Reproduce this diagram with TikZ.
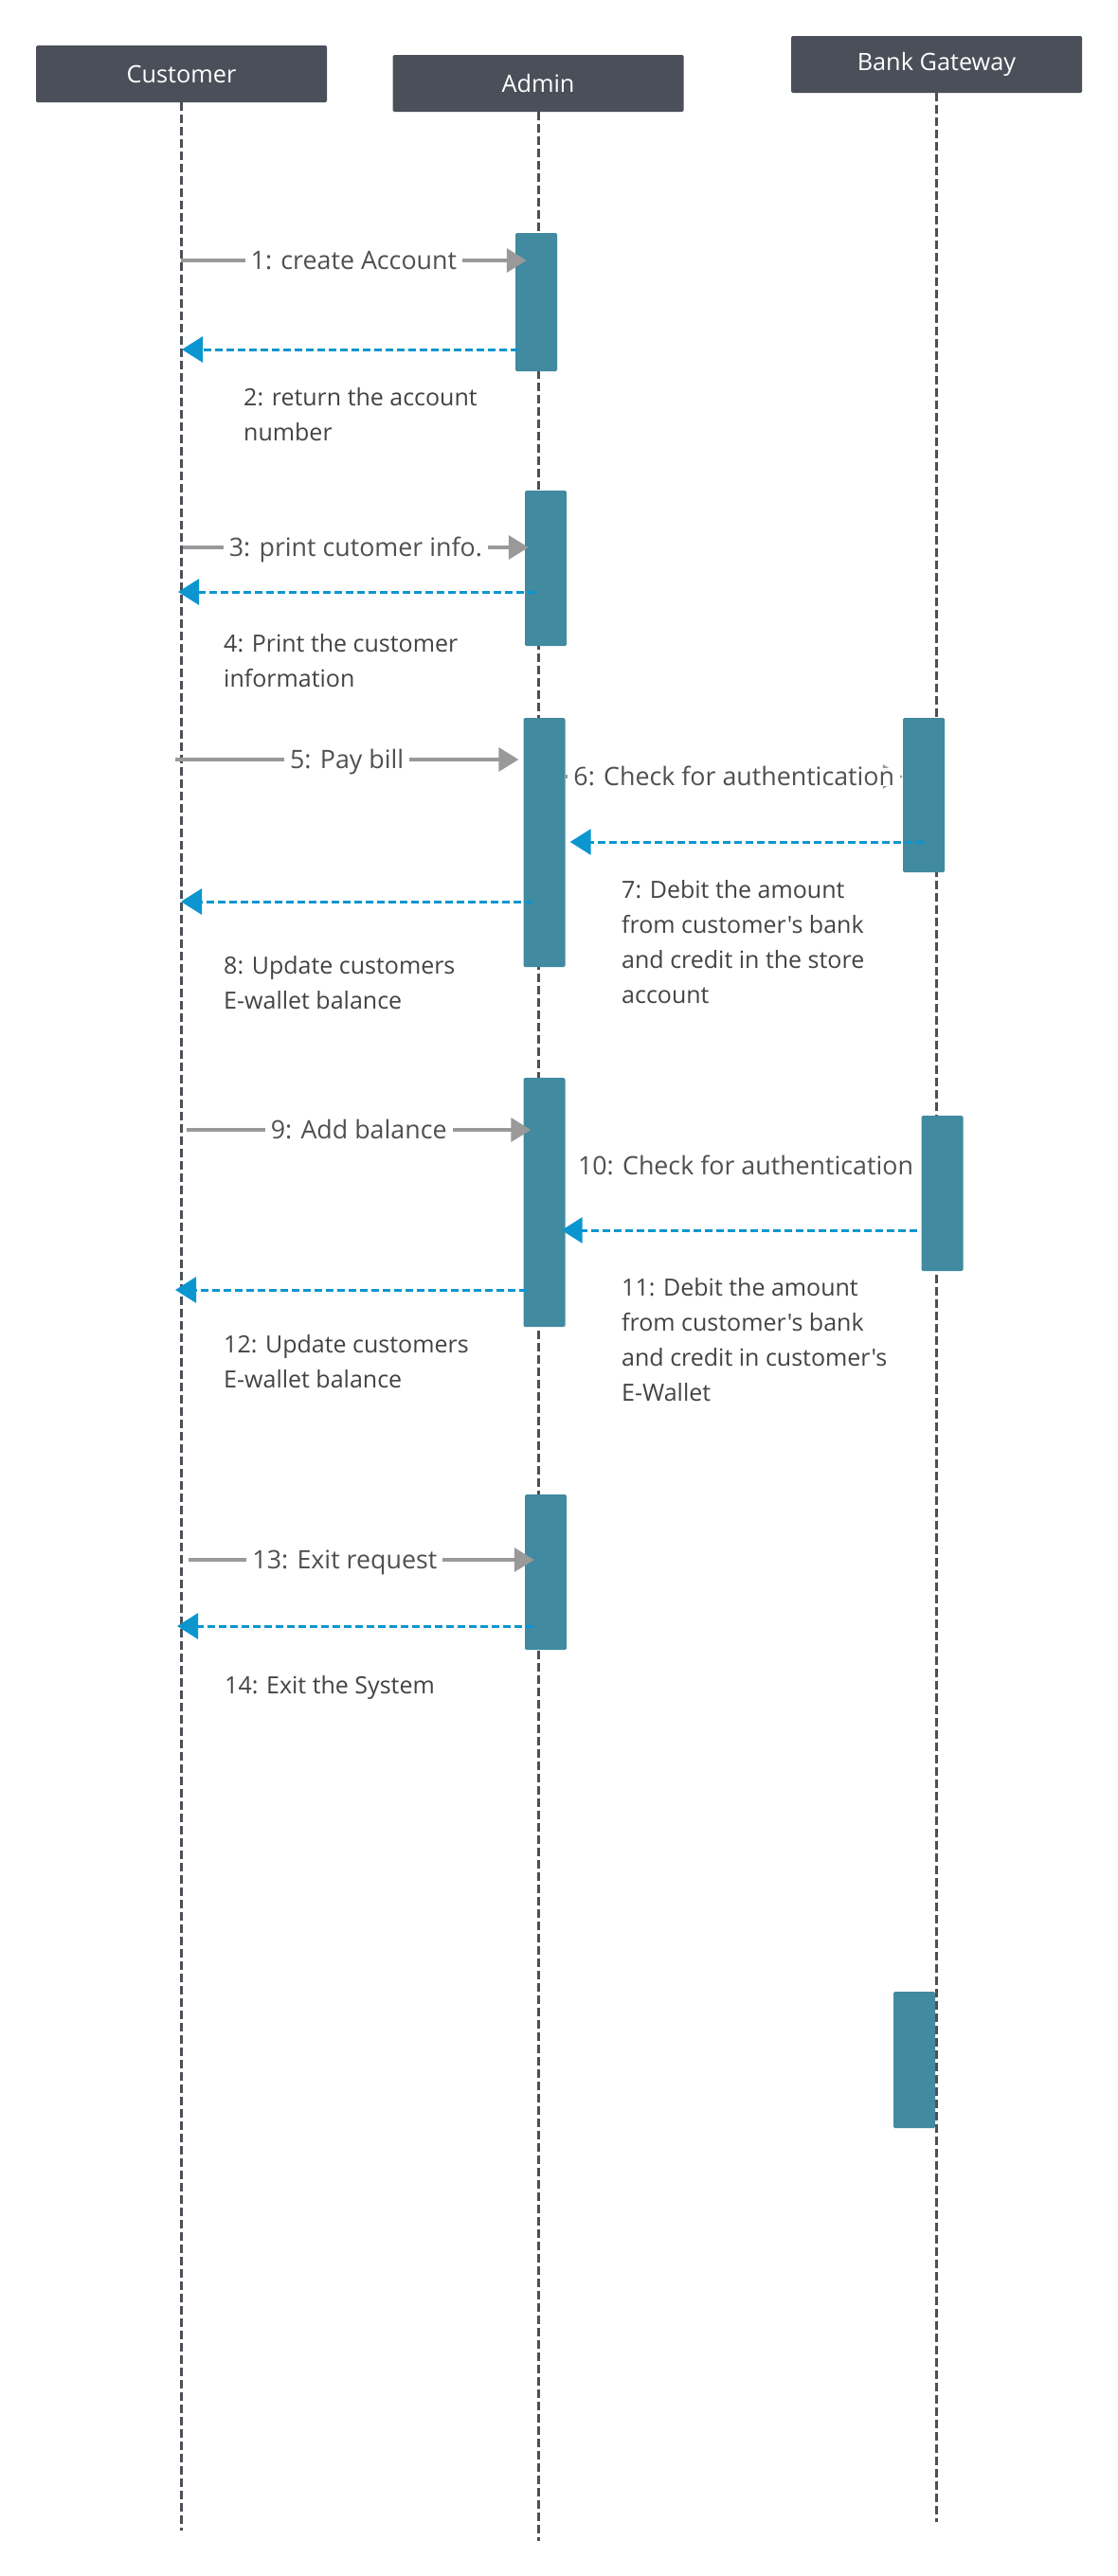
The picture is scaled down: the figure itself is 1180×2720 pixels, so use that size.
\documentclass[tikz,border=0pt]{standalone}
\usepackage{fontspec}
\setmainfont{Open Sans}[Ligatures=TeXOff]
\usetikzlibrary{arrows.meta,calc}
\definecolor{headC}{HTML}{4A4F59}
\definecolor{actC}{HTML}{418AA0}
\definecolor{grayC}{HTML}{999999}
\definecolor{blueC}{HTML}{0B96D0}
\definecolor{lblC}{HTML}{505050}
\definecolor{txtC}{HTML}{434343}
\newcommand{\mlines}[1]{\begin{tabular}[t]{@{}l@{}}#1\end{tabular}}
\tikzset{
  head/.style={rectangle, fill=headC, text=white, minimum width=307pt, minimum height=60pt, rounded corners=1.5pt, inner sep=0pt, font=\fontsize{25.3}{30}\selectfont},
  life/.style={draw=headC, line width=3pt, dash pattern=on 9pt off 4pt},
  act/.style={rectangle, fill=actC, minimum width=44pt, inner sep=0pt, rounded corners=1.5pt},
  msg/.style={draw=grayC, line width=3.5pt, -{Triangle[length=21pt,width=25pt]}},
  ret/.style={draw=blueC, line width=3pt, dash pattern=on 8pt off 4pt, -{Triangle[length=22pt,width=27pt]}},
  lbl/.style={fill=white, text=lblC, inner xsep=6pt, inner ysep=0pt, text height=19pt, text depth=0pt, font=\fontsize{26.8}{32}\selectfont},
  note/.style={anchor=base west, inner sep=0pt, text=txtC, font=\fontsize{25}{37}\selectfont},
}
\begin{document}
\begin{tikzpicture}[x=1pt,y=-1pt]
\useasboundingbox[fill=white] (0,0) rectangle (1180,2720);
% headers
\node[head] (cust) at (191.5,78) {Customer};
\node[head] (adm) at (568,88) {Admin};
\node[head] (bank) at (988.5,68) {Bank Gateway};
% lifelines
\coordinate (custEnd) at (191.5,2672);
\coordinate (admEnd) at (568,2683);
\coordinate (bankEnd) at (988.5,2663);
\draw[life] (cust.south) -- (custEnd);
\draw[life] (adm.south) -- (admEnd);
\draw[life] (bank.south) -- (bankEnd);
% activation boxes
\node[act, minimum height=146pt] (a1) at (566,319) {};
\node[act, minimum height=164pt] (a2) at (576,600) {};
\node[act, minimum height=263pt] (a3) at (574.5,889.5) {};
\node[act, minimum height=163pt] (b1) at (975,839.5) {};
\node[act, minimum height=263pt] (a4) at (574.5,1269.5) {};
\node[act, minimum height=164pt] (b2) at (994.5,1260) {};
\node[act, minimum height=164pt] (a5) at (576,1660) {};
\node[act, minimum height=144pt] (b3) at (965,2175) {};
% message 1
\coordinate (c1) at (191,275);
\draw[msg] (c1) -- ($(c1 -| a1.west)+(12,0)$) node[lbl, pos=0.5] (l1) {1: create Account};
% message 2
\coordinate (c2) at (192,369);
\draw[ret] ($(c2 -| a1.west)+(3,0)$) -- (c2);
\node[note] (l2) at (257,428) {\mlines{2: return the account\\number}};
% message 3
\coordinate (c3) at (193,578);
\draw[msg] (c3) -- ($(c3 -| a2.west)+(4,0)$) node[lbl, pos=0.5] (l3) {3: print cutomer info.};
% message 4
\coordinate (c4) at (188,625);
\draw[ret] ($(c4 -| a2.west)+(11,0)$) -- (c4);
\node[note] (l4) at (236,688) {\mlines{4: Print the customer\\information}};
% message 5
\coordinate (c5) at (185,802);
\draw[msg] (c5) -- ($(c5 -| a3.west)+(-5,0)$) node[lbl, pos=0.5] (l5) {5: Pay bill};
% message 6
\coordinate (y6) at (0,820);
\draw[msg] (a3.east |- y6) -- (b1.west |- y6) node[lbl, pos=0.5] (l6) {6: Check for authentication};
% message 7
\coordinate (y7) at (0,889);
\draw[ret] (b1.center |- y7) -- ($(a3.east |- y7)+(5,0)$);
\node[note] (l7) at (656,948) {\mlines{7: Debit the amount\\from customer's bank\\and credit in the store\\account}};
% message 8
\coordinate (c8) at (191,952);
\draw[ret] ($(c8 -| a3.west)+(10,0)$) -- (c8);
\node[note] (l8) at (236,1028) {\mlines{8: Update customers\\E-wallet balance}};
% message 9
\coordinate (c9) at (197,1193);
\draw[msg] (c9) -- ($(c9 -| a4.west)+(8,0)$) node[lbl, pos=0.5] (l9) {9: Add balance};
% message 10 (label only)
\node[lbl, fill=none] (l10) at (787,1231) {10: Check for authentication};
% message 11
\coordinate (y11) at (0,1299);
\draw[ret] ($(b2.west |- y11)+(-4,0)$) -- ($(a4.east |- y11)+(-4,0)$);
\node[note] (l11) at (656,1368) {\mlines{11: Debit the amount\\from customer's bank\\and credit in customer's\\E-Wallet}};
% message 12
\coordinate (c12) at (185,1362);
\draw[ret] ($(c12 -| a4.west)+(4,0)$) -- (c12);
\node[note] (l12) at (236,1428) {\mlines{12: Update customers\\E-wallet balance}};
% message 13
\coordinate (c13) at (199,1647);
\draw[msg] (c13) -- ($(c13 -| a5.west)+(10,0)$) node[lbl, pos=0.452] (l13) {13: Exit request};
% message 14
\coordinate (c14) at (187,1717);
\draw[ret] ($(c14 -| a5.west)+(9,0)$) -- (c14);
\node[note] (l14) at (237,1788) {\mlines{14: Exit the System}};
\end{tikzpicture}
\end{document}
